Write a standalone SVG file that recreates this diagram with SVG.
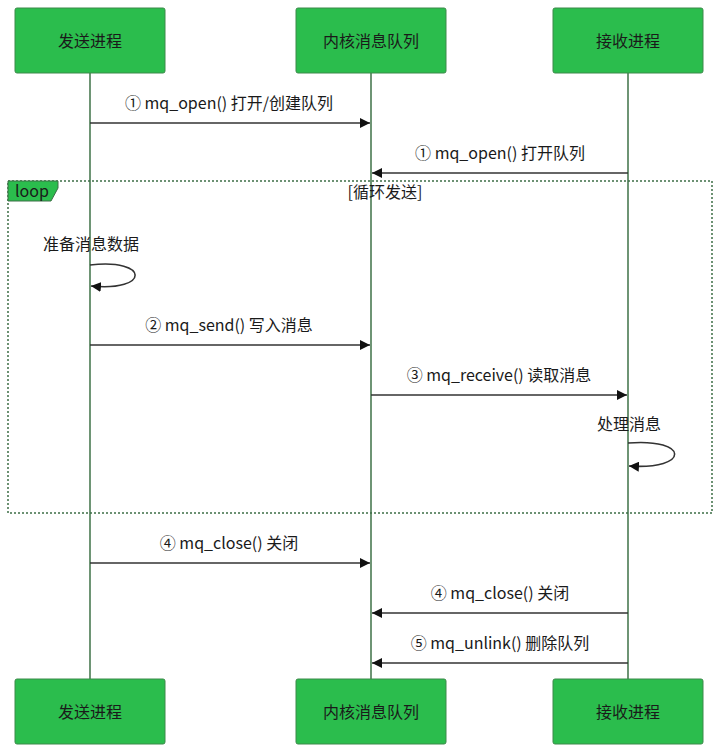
<svg xmlns="http://www.w3.org/2000/svg" width="720" height="753" viewBox="0 0 720 753">
<style>
.box{fill:#2bbd4d;stroke:#3c8a4a;stroke-width:1}
.life{stroke:#4a7a52;stroke-width:1.6;fill:none}
.t{font-family:"Microsoft YaHei","Noto Sans CJK SC","Noto Sans",sans-serif;font-size:16px;fill:#1a1a1a}
.c{text-anchor:middle}
.msg{stroke:#333;stroke-width:1.6;fill:none}
.frame{fill:none;stroke:#3c6e46;stroke-width:1.5;stroke-dasharray:2 2}
</style>
<defs>
<marker id="ah" viewBox="0 0 10 10" refX="10" refY="5" markerWidth="10" markerHeight="10" markerUnits="userSpaceOnUse" orient="auto">
<path d="M0,0 L10,5 L0,10 Z" fill="#111"/>
</marker>
</defs>
<g id="lifelines">
<line class="life" x1="90" y1="73" x2="90" y2="679"/>
<line class="life" x1="371" y1="73" x2="371" y2="679"/>
<line class="life" x1="628" y1="73" x2="628" y2="679"/>
</g>
<g id="loop-frame">
<rect class="frame" x="8" y="181" width="704" height="332"/>
<path d="M8,181 H58 V188 L51,201 H8 Z" fill="#2bbd4d" stroke="#3c6e46" stroke-width="1"/>
<text class="t" x="15" y="197">loop</text>
<text class="t c" x="385" y="198">[循环发送]</text>
</g>
<g id="p1-top"><rect class="box" x="15" y="8" width="150" height="65" rx="2"/><text class="t c" x="90" y="47">发送进程</text></g>
<g id="p2-top"><rect class="box" x="296" y="8" width="150" height="65" rx="2"/><text class="t c" x="371" y="47">内核消息队列</text></g>
<g id="p3-top"><rect class="box" x="553" y="8" width="150" height="65" rx="2"/><text class="t c" x="628" y="47">接收进程</text></g>
<g id="p1-bottom"><rect class="box" x="15" y="679" width="150" height="65" rx="2"/><text class="t c" x="90" y="718">发送进程</text></g>
<g id="p2-bottom"><rect class="box" x="296" y="679" width="150" height="65" rx="2"/><text class="t c" x="371" y="718">内核消息队列</text></g>
<g id="p3-bottom"><rect class="box" x="553" y="679" width="150" height="65" rx="2"/><text class="t c" x="628" y="718">接收进程</text></g>
<g id="connectors">
<line class="msg" x1="90" y1="123" x2="370" y2="123" marker-end="url(#ah)"/>
<text class="t c" x="229" y="109">① mq_open() 打开/创建队列</text>
<line class="msg" x1="628" y1="173" x2="372" y2="173" marker-end="url(#ah)"/>
<text class="t c" x="500" y="159">① mq_open() 打开队列</text>
<text class="t c" x="91" y="250">准备消息数据</text>
<path class="msg" d="M90,265 C150,258 150,292 91,286" marker-end="url(#ah)"/>
<line class="msg" x1="90" y1="345" x2="370" y2="345" marker-end="url(#ah)"/>
<text class="t c" x="229" y="331">② mq_send() 写入消息</text>
<line class="msg" x1="371" y1="395" x2="627" y2="395" marker-end="url(#ah)"/>
<text class="t c" x="499" y="381">③ mq_receive() 读取消息</text>
<text class="t c" x="629" y="430">处理消息</text>
<path class="msg" d="M628,443 C690,438 690,470 629,466" marker-end="url(#ah)"/>
<line class="msg" x1="90" y1="563" x2="370" y2="563" marker-end="url(#ah)"/>
<text class="t c" x="229" y="549">④ mq_close() 关闭</text>
<line class="msg" x1="628" y1="613" x2="372" y2="613" marker-end="url(#ah)"/>
<text class="t c" x="500" y="599">④ mq_close() 关闭</text>
<line class="msg" x1="628" y1="663" x2="372" y2="663" marker-end="url(#ah)"/>
<text class="t c" x="500" y="649">⑤ mq_unlink() 删除队列</text>
</g>
</svg>
